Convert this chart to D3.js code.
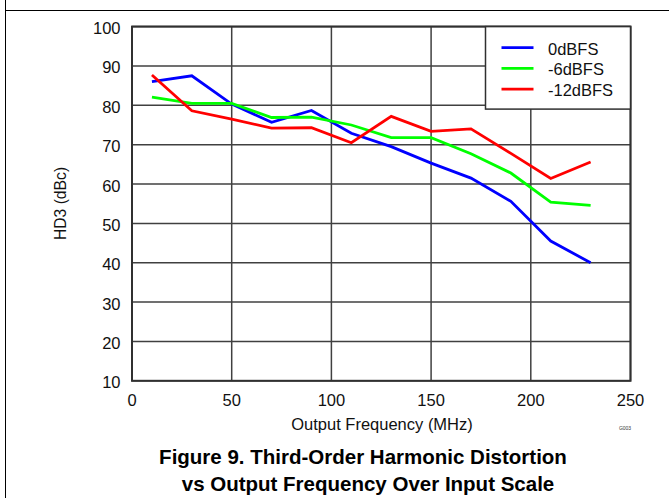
<!DOCTYPE html>
<html><head><meta charset="utf-8">
<script src="https://cdn.jsdelivr.net/npm/d3@7"></script>
<style>body{margin:0;background:#fff;} text{font-family:"Liberation Sans",Arial,sans-serif;}</style>
</head><body>
<svg id="c" width="669" height="498"></svg>
<script>
const freq = [10, 30, 50, 70, 90, 110, 130, 150, 170, 190, 210, 230];
const hd3_0dBFS  = [86.0, 87.5, 80.3, 75.7, 78.7, 72.9, 69.5, 65.3, 61.5, 55.6, 45.5, 40.0];
const hd3_m6dBFS = [82.1, 80.5, 80.5, 76.9, 77.0, 75.0, 71.8, 71.8, 67.7, 62.8, 55.4, 54.6];
const hd3_m12dBFS= [87.7, 78.6, 76.5, 74.2, 74.3, 70.5, 77.2, 73.4, 74.0, 67.8, 61.4, 65.6];
const seriesNames = ["0dBFS", "-6dBFS", "-12dBFS"];
const seriesColors = ["#0000ff", "#00ff00", "#ff0000"];
const xTicks = [0, 50, 100, 150, 200, 250];
const yTicks = [10, 20, 30, 40, 50, 60, 70, 80, 90, 100];

const svg = d3.select("#c");
const L = 132, R = 630.5, T = 26.6, B = 380.8;
const x = d3.scaleLinear().domain([0, 250]).range([L, R]);
const y = d3.scaleLinear().domain([10, 100]).range([B, T]);
const FS = 16.5;

// outer frame
svg.append("line").attr("x1",5.5).attr("x2",5.5).attr("y1",0).attr("y2",498).attr("stroke","#000").attr("stroke-width",1);
svg.append("line").attr("x1",5).attr("x2",669).attr("y1",10.5).attr("y2",10.5).attr("stroke","#000").attr("stroke-width",1);

// grid
const g = svg.append("g");
g.selectAll(".vg").data(xTicks).join("line")
  .attr("x1",d=>x(d)).attr("x2",d=>x(d)).attr("y1",T).attr("y2",B)
  .attr("stroke","#404040").attr("stroke-width",1.5);
g.selectAll(".hg").data(yTicks).join("line")
  .attr("x1",L).attr("x2",R).attr("y1",d=>y(d)).attr("y2",d=>y(d))
  .attr("stroke","#404040").attr("stroke-width",1.5);
g.append("rect").attr("x",L).attr("y",T).attr("width",R-L).attr("height",B-T)
  .attr("fill","none").attr("stroke","#303030").attr("stroke-width",2);

// axes labels
svg.selectAll(".yt").data(yTicks).join("text")
  .attr("x",L-11.5).attr("y",d=>y(d)+7.5).attr("text-anchor","end")
  .attr("font-size",FS).attr("fill","#111").text(d=>d);
svg.selectAll(".xt").data(xTicks).join("text")
  .attr("x",d=>x(d)).attr("y",405.5).attr("text-anchor","middle")
  .attr("font-size",FS).attr("fill","#111").text(d=>d);
svg.append("text").attr("transform","translate(66,203.5) rotate(-90)")
  .attr("text-anchor","middle").attr("font-size",15.7).attr("fill","#111").text("HD3 (dBc)");
svg.append("text").attr("x",382).attr("y",430).attr("text-anchor","middle")
  .attr("font-size",FS).attr("fill","#111").text("Output Frequency (MHz)");
svg.append("text").attr("x",625).attr("y",430).attr("text-anchor","middle")
  .attr("font-size",5).attr("fill","#333").text("G003");

// lines
const all = [hd3_0dBFS, hd3_m6dBFS, hd3_m12dBFS];
const line = d3.line().x((d,i)=>x(freq[i])).y(d=>y(d));
svg.selectAll(".s").data(all).join("path")
  .attr("d",line).attr("fill","none")
  .attr("stroke",(d,i)=>seriesColors[i]).attr("stroke-width",2.8);

// legend
const lg = svg.append("g");
lg.append("rect").attr("x",485.5).attr("y",T).attr("width",R-485.5).attr("height",82.5)
  .attr("fill","#fff").attr("stroke","#303030").attr("stroke-width",1.5);
seriesNames.forEach((n,i)=>{
  const yy = 47.7 + i*20.7;
  lg.append("line").attr("x1",501.5).attr("x2",533.5).attr("y1",yy).attr("y2",yy)
    .attr("stroke",seriesColors[i]).attr("stroke-width",2.8);
  lg.append("text").attr("x",548).attr("y",yy+7).attr("font-size",FS).attr("fill","#111").text(n);
});

// caption
svg.append("text").attr("x",363).attr("y",464).attr("text-anchor","middle")
  .attr("font-size",20.5).attr("font-weight","bold").attr("fill","#000")
  .text("Figure 9. Third-Order Harmonic Distortion");
svg.append("text").attr("x",368).attr("y",491).attr("text-anchor","middle")
  .attr("font-size",20.5).attr("font-weight","bold").attr("fill","#000")
  .text("vs Output Frequency Over Input Scale");
</script>
</body></html>
